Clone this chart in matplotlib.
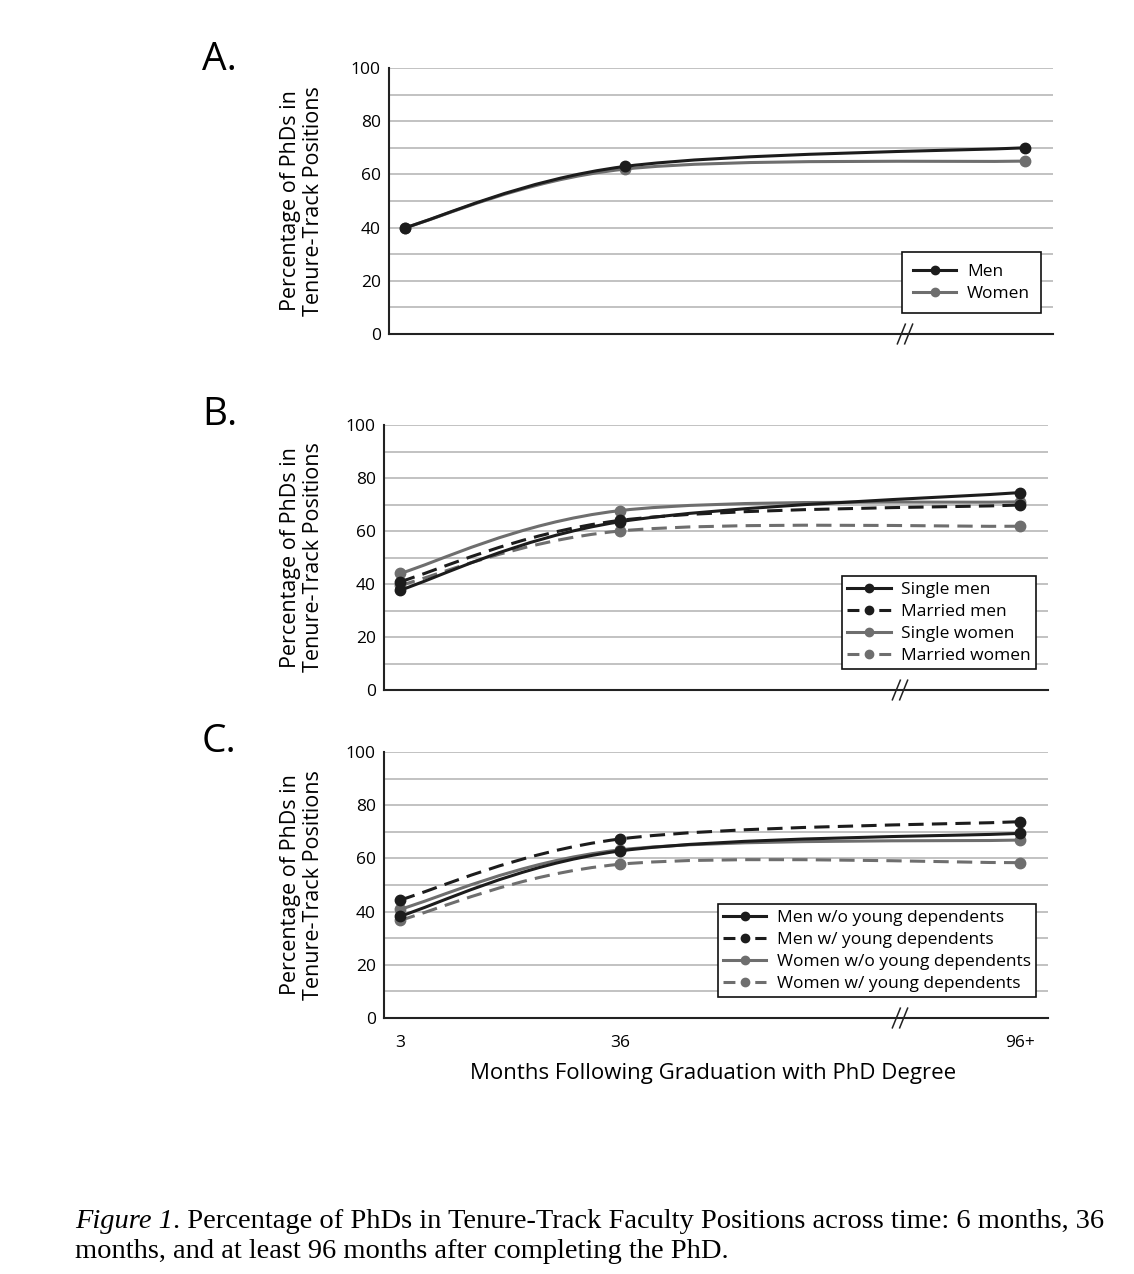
import numpy as np
import matplotlib.pyplot as plt
from matplotlib.path import Path
from matplotlib.patches import PathPatch
from matplotlib.lines import Line2D

plt.rcParams['font.family'] = ['Open Sans', 'DejaVu Sans']

# months after PhD (x positions) and their tick labels
months = [3, 36, 96]
month_labels = ['3', '36', '96+']

# panel A
men = [40, 63, 70]
women = [40, 62, 65]

# panel B
single_men = [37.7, 63.5, 74.5]
married_men = [40.9, 64.0, 69.8]
single_women = [44.0, 67.7, 71.0]
married_women = [39.5, 60.0, 61.8]

# panel C
men_no_dep = [38.3, 62.8, 69.4]
men_dep = [44.4, 67.3, 73.8]
women_no_dep = [40.9, 63.2, 66.9]
women_dep = [36.8, 57.8, 58.4]

BLACK = '#1c1c1c'
GRAY = '#6e6e6e'
SOLID = '-'
DASH = (0, (5, 2.7))
LEG_DASH = (0, (3.9, 6.5))
LW = 2.2
BREAK_AT = 78


def smooth_path(x, y):
    # bezier through the data points (like spreadsheet "smoothed line")
    pts = np.column_stack([x, y]).astype(float)
    ext = np.vstack([pts[0], pts, pts[-1]])
    verts = [pts[0]]
    codes = [Path.MOVETO]
    for i in range(len(pts) - 1):
        p0, p1, p2, p3 = ext[i], ext[i + 1], ext[i + 2], ext[i + 3]
        verts += [p1 + (p2 - p0) / 6, p2 - (p3 - p1) / 6, p2]
        codes += [Path.CURVE4] * 3
    return Path(verts, codes)


def draw_panel(ax, series, show_x=False, borderpad=0.3):
    ax.set_xlim(0.6, 100.2)
    ax.set_ylim(0, 100)
    for yv in range(10, 101, 10):
        ax.axhline(yv, color='#b8b8b8', lw=1.2, zorder=0)
    for s in ['top', 'right']:
        ax.spines[s].set_visible(False)
    for s in ['left', 'bottom']:
        ax.spines[s].set_color('#222222')
        ax.spines[s].set_linewidth(1.5)
    ax.set_yticks(range(0, 101, 20))
    ax.tick_params(axis='y', length=0, pad=6, labelsize=12.5)
    ax.set_xticks(months)
    if show_x:
        ax.set_xticklabels(month_labels)
        ax.tick_params(axis='x', length=0, pad=12, labelsize=12.5)
    else:
        ax.set_xticklabels([])
        ax.tick_params(axis='x', length=0)

    handles = []
    n = len(series)
    for k, (vals, label, color, ls) in enumerate(series):
        z = 3 + 2 * (n - k)
        ax.add_patch(PathPatch(smooth_path(months, vals), fill=False,
                               edgecolor=color, lw=LW, linestyle=ls,
                               capstyle='butt', zorder=z))
        ax.plot(months, vals, 'o', color=color, ms=7.5, zorder=z + 1)
        handles.append(Line2D([], [], color=color, lw=LW,
                              ls=SOLID if ls == SOLID else LEG_DASH,
                              marker='o', ms=6, label=label))
    leg = ax.legend(handles=handles, loc='lower right',
                    bbox_to_anchor=(0.982, 0.079), fontsize=12.5,
                    frameon=True, fancybox=False, framealpha=1,
                    edgecolor='#111111', borderaxespad=0, handlelength=2.5,
                    labelspacing=0.34, handletextpad=0.6, borderpad=borderpad,
                    numpoints=1)
    leg.set_zorder(20)
    leg.get_frame().set_linewidth(1.2)

    # axis break marks
    bx = (BREAK_AT - 0.6) / (100.2 - 0.6)
    for off in (-0.0055, 0.0055):
        ax.plot([bx + off - 0.006, bx + off + 0.006], [-0.037, 0.037],
                transform=ax.transAxes, color='#222222', lw=1.1,
                clip_on=False, zorder=5)


fig = plt.figure(figsize=(11.34, 12.74), dpi=100)

W, H = 1134, 1274
panels = [
    (389, 68, 334, 'A.', 70, 0.65, [
        (men, 'Men', BLACK, SOLID),
        (women, 'Women', GRAY, SOLID),
    ]),
    (384, 425, 690, 'B.', 425, 0.3, [
        (single_men, 'Single men', BLACK, SOLID),
        (married_men, 'Married men', BLACK, DASH),
        (single_women, 'Single women', GRAY, SOLID),
        (married_women, 'Married women', GRAY, DASH),
    ]),
    (384, 752, 1018, 'C.', 752, 0.3, [
        (men_no_dep, 'Men w/o young dependents', BLACK, SOLID),
        (men_dep, 'Men w/ young dependents', BLACK, DASH),
        (women_no_dep, 'Women w/o young dependents', GRAY, SOLID),
        (women_dep, 'Women w/ young dependents', GRAY, DASH),
    ]),
]

for i, (left, top, bottom, letter, letter_base, bpad, series) in enumerate(panels):
    ax = fig.add_axes([left / W, 1 - bottom / H, 664 / W, (bottom - top) / H])
    draw_panel(ax, series, show_x=(i == 2), borderpad=bpad)
    fig.text(202 / W, 1 - letter_base / H, letter, fontsize=28,
             va='baseline', ha='left')
    fig.text(302 / W, 1 - (top + bottom) / 2 / H,
             'Percentage of PhDs in\nTenure-Track Positions',
             rotation=90, ha='center', va='center', fontsize=15.5,
             linespacing=1.1, multialignment='center')

fig.text(713 / W, 1 - 1074 / H, 'Months Following Graduation with PhD Degree',
         ha='center', va='center', fontsize=16)

cap1 = fig.text(75 / W, 1 - 1228 / H, 'Figure 1', fontsize=20.5,
                family='Liberation Serif', style='italic', va='baseline')
fig.axes[0].annotate('. Percentage of PhDs in Tenure-Track Faculty Positions '
                     'across time: 6 months, 36',
                     xy=(1, 0), xycoords=cap1, va='bottom', ha='left',
                     fontsize=20.5, family='Liberation Serif',
                     annotation_clip=False)
fig.text(75 / W, 1 - 1258 / H,
         'months, and at least 96 months after completing the PhD.',
         fontsize=20.5, family='Liberation Serif', va='baseline')

fig.savefig('out.png', dpi=100)
